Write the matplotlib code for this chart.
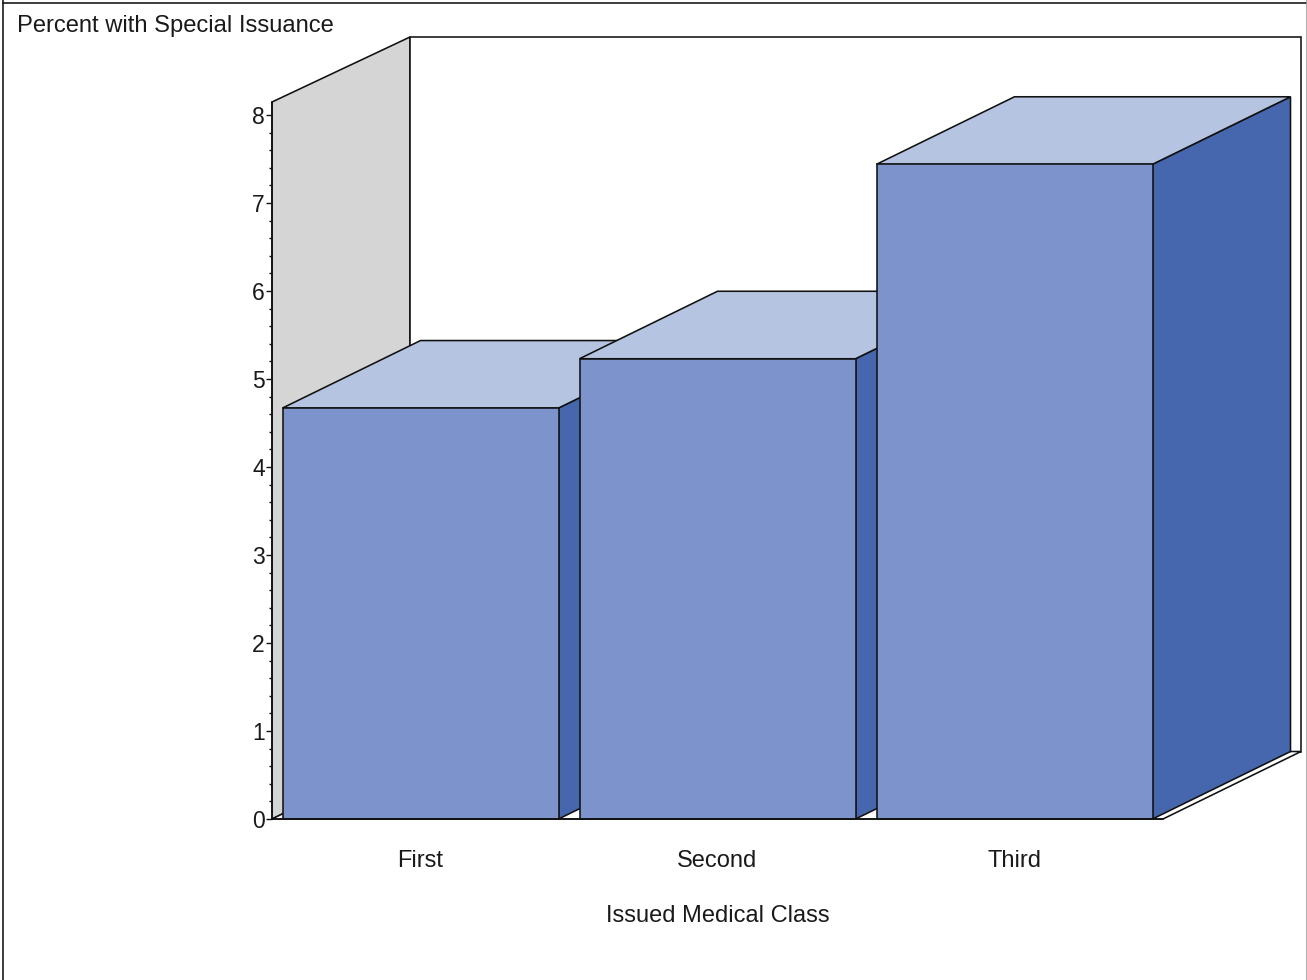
#!/usr/bin/env python3
# 3D look bar chart, percent with special issuance by medical class
import matplotlib
matplotlib.use('Agg')
import matplotlib.pyplot as plt
from matplotlib.patches import Polygon
from matplotlib.lines import Line2D

classes = ['First', 'Second', 'Third']
percent = [4.67, 5.23, 7.44]
y_ticks = [0, 1, 2, 3, 4, 5, 6, 7, 8]
y_minor = [v / 5 for v in range(41) if v % 5 != 0]

plt.rcParams['font.family'] = ['Liberation Sans', 'DejaVu Sans']

W, H = 1307, 980
X_UNIT = 297.0   # px per category
Y_UNIT = 88.0    # px per percent point
X0, Y0 = 420.5, 819.0   # px of category 0 / value 0

bar_w = 276 / X_UNIT
dx = 138 / X_UNIT     # depth of the fake 3d
dy = 67.5 / Y_UNIT
wall_x = (272 - X0) / X_UNIT
floor_x = (1163 - X0) / X_UNIT
y_top = (819 - 102) / Y_UNIT
y_back = (819 - 37) / Y_UNIT

EDGE = '#111111'
FRONT = '#7C94CB'
SIDE = '#4667AD'
TOP = '#B5C4E1'
WALL = '#D5D5D5'
TXT = '#1a1a1a'
LW = 1.15

fig = plt.figure(figsize=(W / 100, H / 100), dpi=100, facecolor='white')
ax = fig.add_axes([0, 0, 1, 1])
ax.set_xlim(-X0 / X_UNIT, (W - X0) / X_UNIT)
ax.set_ylim((Y0 - H) / Y_UNIT, Y0 / Y_UNIT)
ax.patch.set_alpha(0)


def face(pts, color, z):
    ax.add_patch(Polygon(pts, closed=True, facecolor=color, edgecolor=EDGE,
                         linewidth=LW, zorder=z, joinstyle='miter'))


# walls and floor
face([(wall_x, 0), (wall_x, y_top), (wall_x + dx, y_back), (wall_x + dx, dy)], WALL, 1)
face([(wall_x + dx, dy), (wall_x + dx, y_back),
      (floor_x + dx, y_back), (floor_x + dx, dy)], 'white', 1)
face([(wall_x, 0), (floor_x, 0), (floor_x + dx, dy), (wall_x + dx, dy)], 'white', 1)

# bars, painted left to right so the next one hides the previous side
for i, v in enumerate(percent):
    z = 2 + i
    l = i - bar_w / 2
    r = i + bar_w / 2
    face([(r, 0), (r + dx, dy), (r + dx, v + dy), (r, v)], SIDE, z)
    face([(l, v), (r, v), (r + dx, v + dy), (l + dx, v + dy)], TOP, z)
    ax.bar(i, v, width=bar_w, color=FRONT, edgecolor=EDGE, linewidth=LW, zorder=z)

# axes
for s in ['top', 'right']:
    ax.spines[s].set_visible(False)
ax.spines['left'].set_position(('data', wall_x))
ax.spines['left'].set_bounds(0, y_top)
ax.spines['bottom'].set_position(('data', 0))
ax.spines['bottom'].set_bounds(wall_x, floor_x)
for s in ['left', 'bottom']:
    ax.spines[s].set_linewidth(LW)
    ax.spines[s].set_color(EDGE)
    ax.spines[s].set_zorder(10)

ax.set_yticks(y_ticks)
ax.set_yticks(y_minor, minor=True)
ax.tick_params(axis='y', which='major', length=4.5, width=1.0, pad=0.8,
               labelsize=16.5, labelcolor=TXT, color=EDGE)
ax.tick_params(axis='y', which='minor', length=2, width=1.0, color=EDGE)
ax.set_xticks(range(len(classes)))
ax.set_xticklabels(classes)
ax.tick_params(axis='x', length=0, pad=22, labelsize=17, labelcolor=TXT)

ax.text(1, (Y0 - 915.5) / Y_UNIT, 'Issued Medical Class', ha='center', va='center',
        fontsize=17, color=TXT)
ax.text((17 - X0) / X_UNIT, (Y0 - 25.5) / Y_UNIT, 'Percent with Special Issuance',
        ha='left', va='center', fontsize=17.1, color=TXT)

# frame round the picture, no line at the bottom
fig.add_artist(Line2D([3 / W, 3 / W], [0, 1], color=EDGE, lw=LW))
fig.add_artist(Line2D([3 / W, 1], [1 - 3 / H, 1 - 3 / H], color=EDGE, lw=LW))
fig.add_artist(Line2D([1 - 0.5 / W, 1 - 0.5 / W], [0, 1], color='#999999', lw=LW))

fig.savefig('out.png', dpi=100)
